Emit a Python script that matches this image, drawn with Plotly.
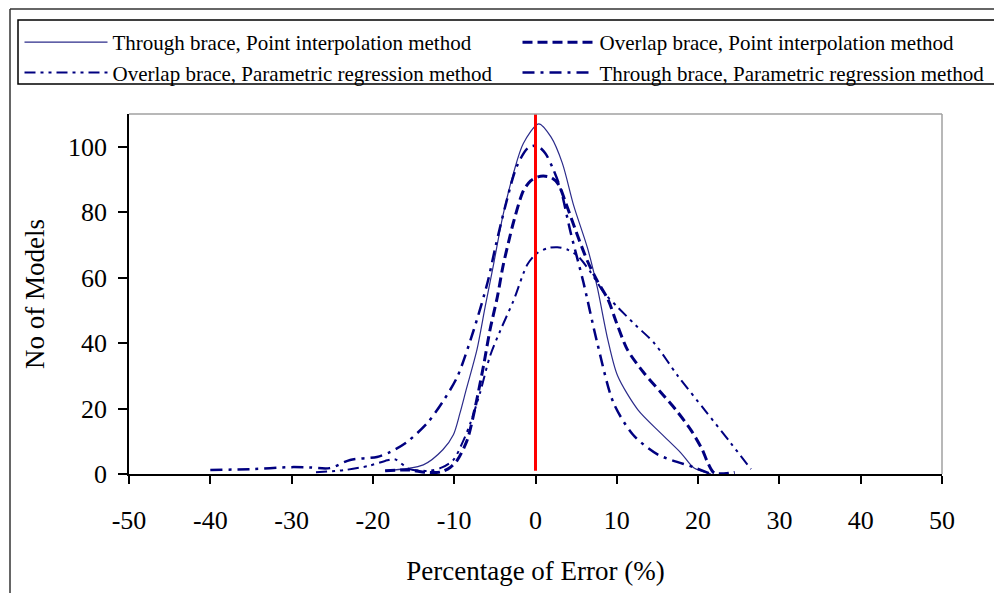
import plotly.graph_objects as go

# ---- data ----
tp_x = [-18.5, -13.8, -11.4, -10.1, -9.3, -8.5, -7.2, -6.2, -5.2, -4.0, -2.7, -1.5, 0.4,
        1.9, 3.3, 4.7, 6.4, 7.6, 8.9, 10.1, 12.6, 15.4, 17.9, 19.5, 21.6]
tp_y = [1.0, 2.8, 7.4, 12.0, 18.5, 26.0, 38.0, 51.0, 63.5, 79.0, 92.0, 101.0, 107.0,
        103.0, 95.0, 82.0, 69.0, 57.0, 41.0, 30.0, 19.6, 12.5, 6.4, 1.8, 0.0]

op_x = [-18.5, -15.5, -13.5, -11.7, -10.5, -9.6, -8.4, -7.4, -6.4, -5.6, -4.7, -4.0, -3.3,
        -2.7, -1.5, -0.6, 0.3, 1.2, 2.0, 2.8, 3.7, 5.0, 6.4, 7.6, 8.9, 10.0, 11.3, 13.3,
        15.4, 17.3, 19.1, 20.5, 21.2, 22.0, 24.5]
op_y = [1.0, 1.2, 0.5, 0.6, 2.0, 4.3, 10.4, 20.6, 33.0, 44.0, 54.0, 63.5, 71.0,
        77.0, 86.5, 89.6, 90.8, 91.0, 90.5, 88.6, 83.0, 74.0, 65.0, 59.0, 53.4, 46.0, 38.0, 31.0,
        25.0, 19.5, 13.5, 7.5, 3.4, 0.3, 0.5]

opr_x = [-27.0, -23.5, -20.5, -18.5, -17.3, -15.5, -13.0, -11.5, -10.1, -9.0, -8.0, -6.8,
         -5.6, -4.3, -2.7, -1.0, 0.2, 1.5, 2.7, 4.0, 5.2, 6.8, 8.4, 10.1, 12.3, 14.6, 17.5,
         20.8, 24.0, 26.5]
opr_y = [0.5, 1.2, 2.5, 4.0, 4.5, 1.5, 1.0, 2.0, 4.3, 9.5, 15.6, 25.0,
         36.0, 44.0, 53.0, 64.0, 67.5, 69.0, 69.3, 68.5, 66.6, 61.6, 55.5, 51.0, 45.5, 40.0, 30.0,
         19.6, 9.5, 1.5]

tpr_x = [-40.0, -35.0, -30.0, -27.8, -25.3, -22.8, -19.5, -17.9, -15.8, -13.3, -11.3, -9.6,
         -7.6, -5.9, -4.9, -3.7, -2.3, -0.9, 0.2, 1.2, 2.1, 3.1, 4.3, 5.9, 7.6, 9.6, 12.0,
         15.0, 19.5, 21.6]
tpr_y = [1.2, 1.5, 2.1, 2.0, 1.8, 4.3, 5.2, 6.7, 9.8, 15.6, 22.5, 29.8,
         44.0, 58.5, 69.7, 82.0, 94.0, 99.7, 100.3, 98.0, 93.6, 87.0, 74.0, 58.5, 40.0, 21.7, 12.0,
         6.0, 2.0, 0.0]

names = ["Through brace, Point interpolation method",
         "Overlap brace, Point interpolation method",
         "Overlap brace, Parametric regression method",
         "Through brace, Parametric regression method"]

x_ticks = [-50, -40, -30, -20, -10, 0, 10, 20, 30, 40, 50]
x_tick_text = ["-50", "-40", "-30", "-20", "-10", "0", "10", "20", "30", "40", "50"]
y_ticks = [0, 20, 40, 60, 80, 100]
ref_x = 0

x_title = "Percentage of Error (%)"
y_title = "No of Models"

NAVY = "#000080"
FONT = "Liberation Serif"

# the page body has an 8px margin, so the figure is drawn 8px smaller
W, H = 994, 585
L, R, T, B = 121, 60, 106, 119
PW, PH = W - L - R, H - T - B


def px_to_paper_x(px):
    return (px - L) / PW


def px_to_paper_y(py):
    return (H - B - py) / PH


fig = go.Figure()
fig.add_trace(go.Scatter(x=tp_x, y=tp_y, name=names[0], mode="lines", legend="legend",
                         line=dict(color="#2b2b8a", width=1.2, shape="spline", smoothing=0.8)))
fig.add_trace(go.Scatter(x=op_x, y=op_y, name=names[1], mode="lines", legend="legend2",
                         line=dict(color=NAVY, width=3, dash="10px,5px", shape="spline", smoothing=0.8)))
fig.add_trace(go.Scatter(x=opr_x, y=opr_y, name=names[2], mode="lines", legend="legend",
                         line=dict(color=NAVY, width=2, dash="11px,5px,3px,5px,3px,5px",
                                   shape="spline", smoothing=0.8)))
fig.add_trace(go.Scatter(x=tpr_x, y=tpr_y, name=names[3], mode="lines", legend="legend2",
                         line=dict(color=NAVY, width=2.5, dash="12px,6px,3px,6px",
                                   shape="spline", smoothing=0.8)))

shapes = [
    # red reference line at x = 0
    dict(type="line", xref="x", yref="y", x0=ref_x, x1=ref_x, y0=1, y1=110,
         line=dict(color="#ff0000", width=3), layer="above"),
    # plot area top / right border (gray)
    dict(type="line", xref="paper", yref="paper", x0=0, x1=1, y0=1, y1=1,
         line=dict(color="#a0a0a0", width=1.5)),
    dict(type="line", xref="paper", yref="paper", x0=1, x1=1, y0=0, y1=1,
         line=dict(color="#a0a0a0", width=1.5)),
    # outer frame (top and left)
    dict(type="line", xref="paper", yref="paper",
         x0=px_to_paper_x(2), x1=px_to_paper_x(1000), y0=px_to_paper_y(1), y1=px_to_paper_y(1),
         line=dict(color="#333333", width=1.5)),
    dict(type="line", xref="paper", yref="paper",
         x0=px_to_paper_x(2), x1=px_to_paper_x(2), y0=px_to_paper_y(1), y1=px_to_paper_y(600),
         line=dict(color="#333333", width=1.5)),
    # legend box
    dict(type="rect", xref="paper", yref="paper",
         x0=px_to_paper_x(10), x1=px_to_paper_x(989), y0=px_to_paper_y(12), y1=px_to_paper_y(76),
         line=dict(color="black", width=1.5), fillcolor="rgba(0,0,0,0)"),
]

annotations = [
    dict(text=y_title, xref="paper", yref="paper", x=px_to_paper_x(27), y=0.5,
         xanchor="center", yanchor="middle", textangle=-90, showarrow=False,
         font=dict(family=FONT, size=27, color="black")),
]

legend_common = dict(orientation="v", xref="container", yref="container",
                     xanchor="left", yanchor="top", borderwidth=0,
                     bgcolor="rgba(0,0,0,0)",
                     font=dict(family=FONT, size=21, color="black"),
                     traceorder="normal", tracegroupgap=0)

fig.update_layout(
    width=W, height=H,
    margin=dict(l=L, r=R, t=T, b=B, autoexpand=False),
    paper_bgcolor="white", plot_bgcolor="white",
    font=dict(family=FONT, color="black"),
    showlegend=True,
    legend=dict(x=11.5 / W, y=1 - 14 / H, itemwidth=83, **legend_common),
    legend2=dict(x=509.5 / W, y=1 - 14 / H, itemwidth=72, **legend_common),
    shapes=shapes,
    annotations=annotations,
    xaxis=dict(range=[-50, 50], tickmode="array", tickvals=x_ticks, ticktext=x_tick_text,
               ticks="outside", ticklen=8, tickwidth=1.5, tickcolor="black",
               showline=True, linecolor="black", linewidth=1.5,
               showgrid=False, zeroline=False, ticklabelstandoff=14,
               tickfont=dict(family=FONT, size=26, color="black"),
               title=dict(text=x_title, standoff=27,
                          font=dict(family=FONT, size=27, color="black"))),
    yaxis=dict(range=[0, 110], tickmode="array", tickvals=y_ticks,
               ticks="outside", ticklen=9, tickwidth=1.5, tickcolor="black",
               showline=True, linecolor="black", linewidth=1.5,
               showgrid=False, zeroline=False, ticklabelstandoff=6,
               tickfont=dict(family=FONT, size=26, color="black")),
)

fig.write_html("out.html")
